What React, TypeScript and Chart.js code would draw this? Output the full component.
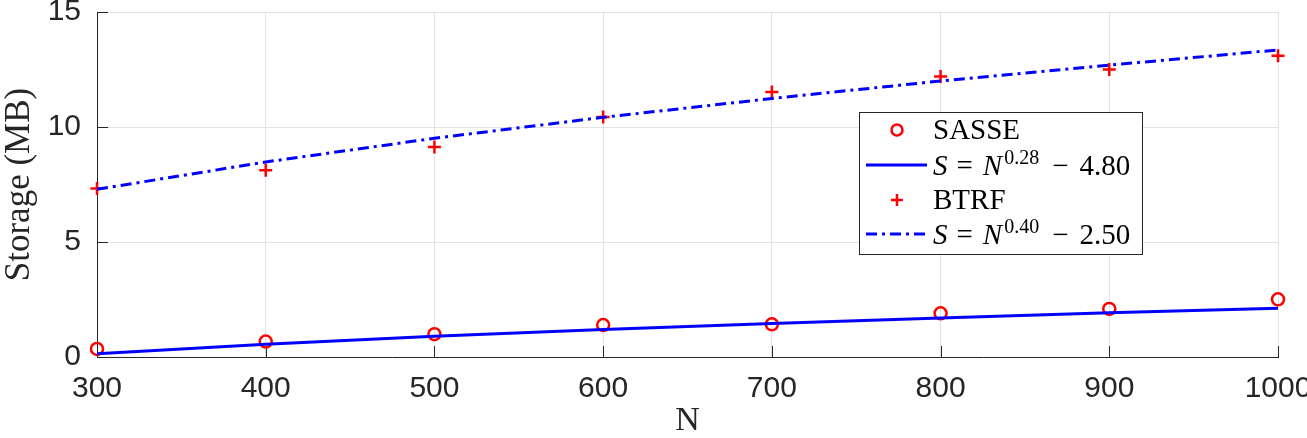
import React, { useEffect, useRef } from 'react';
import { Chart, registerables } from 'chart.js';

Chart.register(...registerables);

// ---- data ----
const nValues = [300, 400, 500, 600, 700, 800, 900, 1000];
const sasseStorage = [0.35, 0.67, 0.99, 1.39, 1.42, 1.9, 2.09, 2.51];
const sasseFit = [0.14, 0.55, 0.9, 1.2, 1.46, 1.7, 1.92, 2.12];
const btrfStorage = [7.33, 8.12, 9.13, 10.43, 11.52, 12.2, 12.5, 13.1];
const btrfFit = [7.29, 8.48, 9.51, 10.42, 11.24, 12.0, 12.69, 13.35];
const xTicks = [300, 400, 500, 600, 700, 800, 900, 1000];
const yTicks = [0, 5, 10, 15];
const markerNames = ['SASSE', 'BTRF'];
const fitExponents = ['0.28', '0.40'];
const fitConstants = ['4.80', '2.50'];
const xTitle = 'N';
const yTitle = 'Storage (MB)';

const AXIS = '#262626';
const GRID = '#e3e3e3';
const RED = '#ff0000';
const BLUE = '#0000ff';
const SERIF = '"Liberation Serif", "Times New Roman", serif';
const SANS = '"Liberation Sans", Arial, Helvetica, sans-serif';
const DASHDOT = [11, 5, 3, 5];

const insideTicks = {
  id: 'insideTicks',
  beforeDatasetsDraw(chart: any) {
    const { ctx, chartArea, scales } = chart;
    ctx.save();
    ctx.strokeStyle = AXIS;
    ctx.lineWidth = 1;
    ctx.beginPath();
    for (const v of xTicks) {
      const x = Math.round(scales.x.getPixelForValue(v)) + 0.5;
      ctx.moveTo(x, chartArea.bottom);
      ctx.lineTo(x, chartArea.bottom - 11);
    }
    for (const v of yTicks) {
      const y = Math.round(scales.y.getPixelForValue(v)) + 0.5;
      ctx.moveTo(chartArea.left, y);
      ctx.lineTo(chartArea.left + 11, y);
    }
    ctx.stroke();
    ctx.restore();
  },
};

function drawFormula(ctx: CanvasRenderingContext2D, x: number, y: number, exp: string, c: string) {
  ctx.textBaseline = 'alphabetic';
  ctx.textAlign = 'left';
  const big = `29px ${SERIF}`;
  const ital = `italic 29px ${SERIF}`;
  const small = `20px ${SERIF}`;
  let cx = x;
  ctx.font = ital;
  ctx.fillText('S', cx, y);
  cx += ctx.measureText('S').width + 9;
  ctx.font = big;
  ctx.fillText('=', cx, y);
  cx += ctx.measureText('=').width + 10;
  ctx.font = ital;
  ctx.fillText('N', cx, y);
  cx += ctx.measureText('N').width + 2;
  ctx.font = small;
  ctx.fillText(exp, cx, y - 11);
  cx += ctx.measureText(exp).width + 13;
  ctx.font = big;
  ctx.fillText('\u2212', cx, y);
  cx += ctx.measureText('\u2212').width + 11;
  ctx.fillText(c, cx, y);
}

const boxLegend = {
  id: 'boxLegend',
  afterDraw(chart: any) {
    const { ctx } = chart;
    const bx = 859.5, by = 112.5, bw = 283, bh = 142;
    ctx.save();
    ctx.fillStyle = '#ffffff';
    ctx.fillRect(bx, by, bw, bh);
    ctx.strokeStyle = AXIS;
    ctx.lineWidth = 1;
    ctx.strokeRect(bx, by, bw, bh);
    const rows = [130, 165, 200, 234];
    const sx0 = 866, sx1 = 927, mx = 897, tx = 933;
    // SASSE marker
    ctx.strokeStyle = RED;
    ctx.lineWidth = 2.5;
    ctx.beginPath();
    ctx.arc(mx, rows[0], 5.5, 0, Math.PI * 2);
    ctx.stroke();
    // fit line 1
    ctx.strokeStyle = BLUE;
    ctx.lineWidth = 3;
    ctx.beginPath();
    ctx.moveTo(sx0, rows[1]);
    ctx.lineTo(sx1, rows[1]);
    ctx.stroke();
    // BTRF marker
    ctx.strokeStyle = RED;
    ctx.lineWidth = 2.5;
    ctx.beginPath();
    ctx.moveTo(mx - 6, rows[2]);
    ctx.lineTo(mx + 6, rows[2]);
    ctx.moveTo(mx, rows[2] - 6);
    ctx.lineTo(mx, rows[2] + 6);
    ctx.stroke();
    // fit line 2
    ctx.strokeStyle = BLUE;
    ctx.lineWidth = 3;
    ctx.setLineDash(DASHDOT);
    ctx.beginPath();
    ctx.moveTo(sx0, rows[3]);
    ctx.lineTo(sx1, rows[3]);
    ctx.stroke();
    ctx.setLineDash([]);
    // texts
    ctx.fillStyle = '#000000';
    ctx.textAlign = 'left';
    ctx.textBaseline = 'middle';
    ctx.font = `29px ${SERIF}`;
    ctx.fillText(markerNames[0], tx, rows[0] + 1);
    ctx.fillText(markerNames[1], tx, rows[2] + 1);
    drawFormula(ctx, tx, rows[1] + 10, fitExponents[0], fitConstants[0]);
    drawFormula(ctx, tx, rows[3] + 10, fitExponents[1], fitConstants[1]);
    ctx.restore();
  },
};

export default function App() {
  const ref = useRef<HTMLCanvasElement | null>(null);

  useEffect(() => {
    if (!ref.current) return;
    const mk = (arr: number[]) => nValues.map((n, i) => ({ x: n, y: arr[i] }));
    const chart = new Chart(ref.current, {
      type: 'scatter',
      data: {
        datasets: [
          {
            label: 'SASSE',
            data: mk(sasseStorage),
            showLine: false,
            pointStyle: 'circle',
            pointRadius: 6,
            pointBorderWidth: 2.5,
            pointBorderColor: RED,
            pointBackgroundColor: 'rgba(0,0,0,0)',
            order: 2,
            clip: false,
          },
          {
            label: 'S = N^0.28 - 4.80',
            data: mk(sasseFit),
            showLine: true,
            borderColor: BLUE,
            borderWidth: 3,
            pointRadius: 0,
            tension: 0,
            order: 1,
            clip: false,
          },
          {
            label: 'BTRF',
            data: mk(btrfStorage),
            showLine: false,
            pointStyle: 'cross',
            pointRadius: 6.5,
            pointBorderWidth: 2.5,
            pointBorderColor: RED,
            pointBackgroundColor: RED,
            order: 2,
            clip: false,
          },
          {
            label: 'S = N^0.40 - 2.50',
            data: mk(btrfFit),
            showLine: true,
            borderColor: BLUE,
            borderWidth: 3,
            borderDash: DASHDOT,
            pointRadius: 0,
            tension: 0,
            order: 1,
            clip: false,
          },
        ],
      } as any,
      options: {
        animation: false,
        responsive: false,
        maintainAspectRatio: false,
        layout: { padding: { left: 0, top: 12, right: 29, bottom: 0 } },
        plugins: { legend: { display: false }, tooltip: { enabled: false } },
        scales: {
          x: {
            type: 'linear',
            min: 300,
            max: 1000,
            afterBuildTicks: (s: any) => {
              s.ticks = xTicks.map((v) => ({ value: v }));
            },
            afterFit: (s: any) => {
              s.height = 81;
              s.paddingLeft = 0;
              s.paddingRight = 0;
              s.paddingTop = 0;
              s.paddingBottom = 0;
            },
            grid: { color: GRID, lineWidth: 1, drawTicks: false },
            border: { display: true, color: AXIS, width: 1 },
            ticks: {
              color: AXIS,
              font: { family: SANS, size: 30, lineHeight: 1.2 },
              padding: 14,
              maxRotation: 0,
              autoSkip: false,
              callback: (v: any) => String(v),
            },
            title: {
              display: true,
              text: xTitle,
              color: AXIS,
              font: { family: SERIF, size: 34, lineHeight: 1 },
              padding: { top: 0, bottom: 0 },
            },
          },
          y: {
            type: 'linear',
            min: 0,
            max: 15,
            afterBuildTicks: (s: any) => {
              s.ticks = yTicks.map((v) => ({ value: v }));
            },
            afterFit: (s: any) => {
              s.width = 97;
              s.paddingLeft = 0;
              s.paddingRight = 0;
              s.paddingTop = 0;
              s.paddingBottom = 0;
            },
            grid: { color: GRID, lineWidth: 1, drawTicks: false },
            border: { display: true, color: AXIS, width: 1 },
            ticks: {
              color: AXIS,
              font: { family: SANS, size: 30, lineHeight: 0.8 },
              padding: 16,
              autoSkip: false,
              callback: (v: any) => String(v),
            },
            title: {
              display: true,
              text: yTitle,
              color: AXIS,
              font: { family: SERIF, size: 35, lineHeight: 1 },
              padding: { top: 2, bottom: 0 },
            },
          },
        },
      } as any,
      plugins: [insideTicks, boxLegend],
    });
    return () => chart.destroy();
  }, []);

  return (
    <div style={{ position: 'absolute', left: 0, top: 0, width: 1307, height: 438, background: '#fff' }}>
      <canvas ref={ref} width={1307} height={438} style={{ width: 1307, height: 438, display: 'block' }} />
    </div>
  );
}
